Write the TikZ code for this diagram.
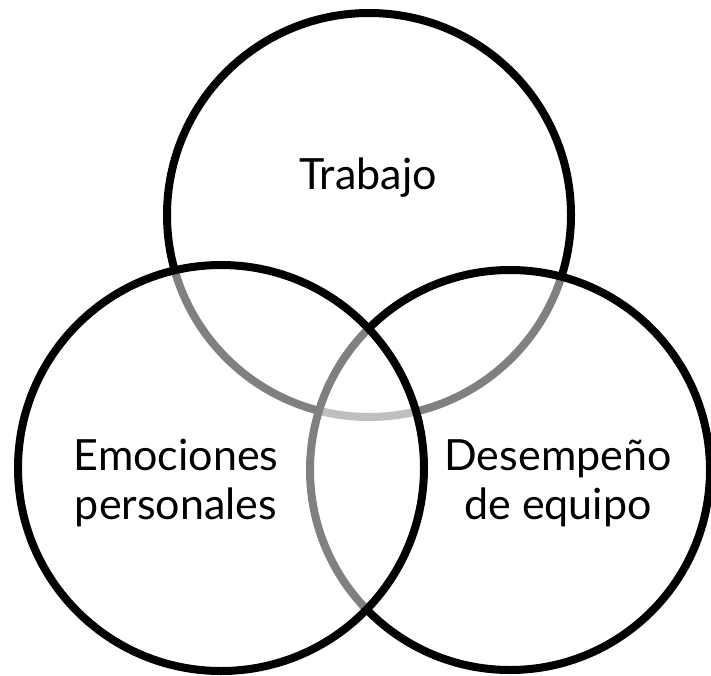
\documentclass[tikz,border=0pt]{standalone}
\usepackage{fontspec}
\setmainfont{Lato}

\begin{document}
\begin{tikzpicture}[line cap=round,line join=round,x=1pt,y=-1pt,
  ring/.style={line width=8pt,draw=black,fill=white,fill opacity=0.5},
  label/.style={font=\fontsize{43}{49}\selectfont,align=center,anchor=base,inner sep=0pt}]
\useasboundingbox (0,0) rectangle (711,675);

% circles, the later one lightens the rims below it
\draw[ring] (369,215) circle (202);
\draw[ring] (510,470) circle (200);
\draw[ring] (221,468) circle (203);

\node[label] (trabajo) at (368,189) {Trabajo};
\node[label] (emociones) at (176,519) {Emociones\\personales};
\node[label] (desempeno) at (558,519) {Desempeño\\de equipo};
\end{tikzpicture}
\end{document}
